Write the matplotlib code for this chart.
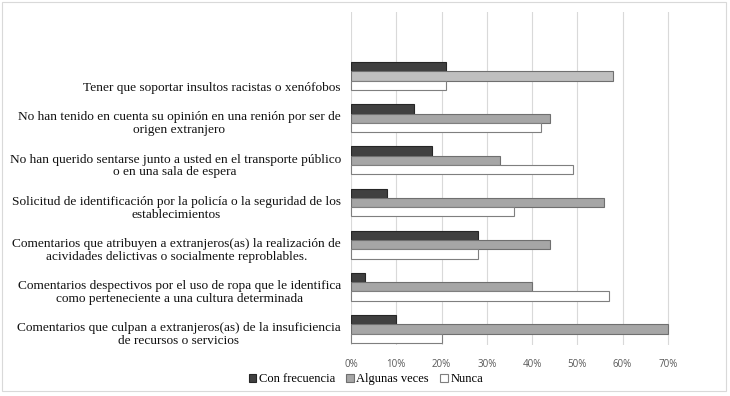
import matplotlib
matplotlib.use("Agg")
import matplotlib.pyplot as plt
from matplotlib.patches import Patch, Rectangle

# categories, listed top to bottom as in the chart
categories = [
    "Tener que soportar insultos racistas o xenófobos",
    "No han tenido en cuenta su opinión en una renión por ser de\norigen extranjero",
    "No han querido sentarse junto a usted en el transporte público\no en una sala de espera",
    "Solicitud de identificación por la policía o la seguridad de los\nestablecimientos",
    "Comentarios que atribuyen a extranjeros(as) la realización de\nacividades delictivas o socialmente reproblables.",
    "Comentarios despectivos por el uso de ropa que le identifica\ncomo perteneciente a una cultura determinada",
    "Comentarios que culpan a extranjeros(as) de la insuficiencia\nde recursos o servicios",
]
con_frecuencia = [0.21, 0.14, 0.18, 0.08, 0.28, 0.03, 0.10]
algunas_veces = [0.58, 0.44, 0.33, 0.56, 0.44, 0.40, 0.70]
nunca = [0.21, 0.42, 0.49, 0.36, 0.28, 0.57, 0.20]
series_names = ["Con frecuencia", "Algunas veces", "Nunca"]
xticks = [0, 0.1, 0.2, 0.3, 0.4, 0.5, 0.6, 0.7]

fig = plt.figure(figsize=(7.3, 3.96), dpi=100)
ax = fig.add_axes([351 / 730, 1 - 345 / 396, (704 - 351) / 730, (345 - 12) / 396])

n = len(categories)
ypos = [n - 1 - i for i in range(n)]
h = 0.22

gray_cols = ["#bfbfbf"] + ["#a6a6a6"] * (n - 1)
ax.barh([y + h for y in ypos], con_frecuencia, height=h, color="#404040",
        edgecolor="#262626", linewidth=0.8, zorder=3)
ax.barh(ypos, algunas_veces, height=h, color=gray_cols,
        edgecolor="#6f6f6f", linewidth=0.8, zorder=3)
ax.barh([y - h for y in ypos], nunca, height=h, color="white",
        edgecolor="#7f7f7f", linewidth=0.8, zorder=3, clip_on=False)

ax.set_xlim(0, 0.78)
ax.set_ylim(-0.38, 7.518)
ax.set_xticks(xticks)
ax.set_xticklabels(["{:.0f}%".format(v * 100) for v in xticks],
                   fontsize=7, color="#595959", family="Open Sans")
ax.tick_params(axis="x", length=0, pad=10)
ax.set_yticks([])
ax.grid(axis="x", color="#d9d9d9", linewidth=0.8, zorder=0)
for s in ax.spines.values():
    s.set_visible(False)

for y, lab in zip(ypos, categories):
    ax.text(-0.0225, y - 0.43, lab, ha="right", va="bottom", multialignment="center",
            fontsize=9.6, family="Liberation Serif", color="#111111",
            transform=ax.transData, linespacing=1.1)

handles = [
    Patch(facecolor="#404040", edgecolor="#262626", linewidth=0.8),
    Patch(facecolor="#a6a6a6", edgecolor="#6f6f6f", linewidth=0.8),
    Patch(facecolor="white", edgecolor="#7f7f7f", linewidth=0.8),
]
fig.legend(handles, series_names, loc="center", bbox_to_anchor=(366 / 730, 1 - 379 / 396),
           ncol=3, frameon=False, handlelength=0.6, handleheight=0.6,
           handletextpad=0.2, columnspacing=0.9,
           prop={"family": "Liberation Serif", "size": 9})

fig.patches.append(Rectangle((2 / 730, 1 - 391 / 396), 724 / 730, 389 / 396,
                             transform=fig.transFigure, fill=False,
                             edgecolor="#d9d9d9", linewidth=0.8))

fig.savefig("out.png", dpi=100, facecolor="white")
